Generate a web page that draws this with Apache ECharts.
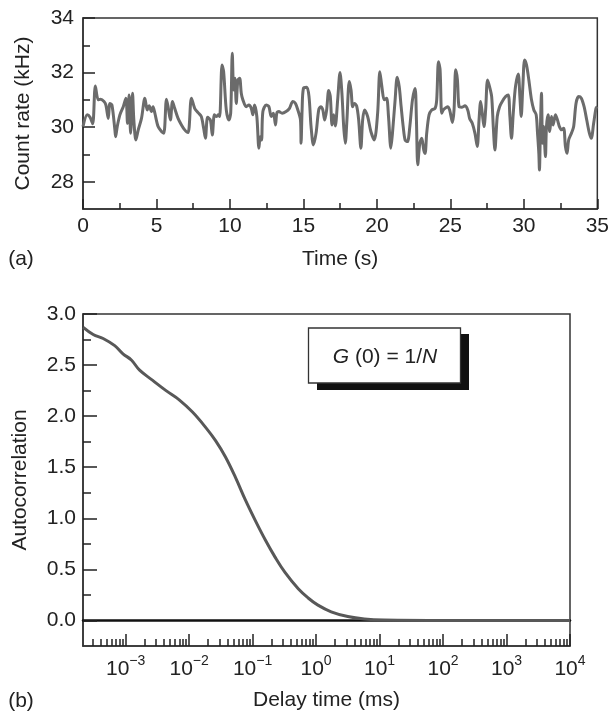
<!DOCTYPE html>
<html><head><meta charset="utf-8">
<script src="https://cdn.jsdelivr.net/npm/echarts@6/dist/echarts.min.js"></script>
<style>html,body{margin:0;padding:0;background:#fff}#c{width:612px;height:712px}</style>
</head><body><div id="c"></div>
<script>
// (a) count-rate trace
const countTime = [0,0.29,0.48,0.66,0.84,1.04,1.20,1.43,1.56,1.72,1.83,1.97,2.17,2.22,2.33,2.51,2.74,2.92,3.03,3.14,3.24,3.37,3.46,3.60,3.76,3.98,4.21,4.37,4.50,4.66,4.77,4.89,5.11,5.34,5.50,5.68,5.79,5.95,6.09,6.24,6.47,6.70,6.92,7.15,7.38,7.60,7.83,8.05,8.21,8.33,8.48,8.67,8.80,8.94,9.07,9.21,9.30,9.46,9.57,9.75,9.93,10.05,10.16,10.25,10.34,10.43,10.54,10.66,10.77,10.88,11.11,11.29,11.45,11.56,11.67,11.83,11.97,12.06,12.15,12.24,12.47,12.65,12.81,12.96,13.10,13.19,13.33,13.55,13.82,14.05,14.28,14.46,14.62,14.80,14.84,14.91,15.00,15.23,15.38,15.52,15.68,15.86,16.04,16.18,16.31,16.45,16.58,16.72,16.83,16.95,17.06,17.17,17.33,17.49,17.62,17.74,17.85,17.96,18.12,18.24,18.35,18.46,18.62,18.76,18.91,19.03,19.16,19.37,19.59,19.82,20.05,20.20,20.34,20.50,20.66,20.79,20.95,21.06,21.24,21.38,21.52,21.65,21.79,21.92,22.08,22.24,22.42,22.60,22.69,22.78,22.92,23.05,23.19,23.28,23.39,23.55,23.73,23.96,24.07,24.19,24.30,24.41,24.52,24.64,24.80,24.95,25.14,25.25,25.36,25.48,25.59,25.77,25.99,26.18,26.31,26.49,26.67,26.83,26.95,27.06,27.17,27.29,27.40,27.53,27.67,27.81,27.92,28.03,28.19,28.35,28.53,28.76,28.94,29.05,29.16,29.28,29.43,29.62,29.73,29.82,29.93,30.05,30.18,30.34,30.52,30.68,30.84,30.93,31.02,31.06,31.13,31.20,31.27,31.34,31.40,31.47,31.54,31.65,31.76,31.88,31.99,32.15,32.29,32.42,32.56,32.71,32.83,32.94,33.05,33.24,33.39,33.55,33.73,33.91,34.10,34.28,34.46,34.59,34.75,34.91,35.00];
const countRate = [30.02,30.45,30.36,30.12,31.51,31.00,31.02,30.94,30.81,30.32,30.87,30.81,29.90,29.65,30.02,30.45,30.75,31.06,30.14,31.18,29.78,31.24,30.26,29.53,29.90,30.32,31.06,30.63,30.78,30.57,30.75,30.51,30.02,29.84,29.78,31.02,30.75,30.26,30.94,30.69,30.32,30.08,29.90,29.80,31.06,30.69,30.53,30.39,29.96,29.59,30.36,30.26,29.71,30.45,30.39,30.45,30.39,32.28,32.03,30.63,30.26,30.51,32.71,31.36,31.79,30.87,31.73,31.79,31.24,31.00,30.75,30.81,30.69,30.45,30.81,30.39,29.23,29.65,29.53,30.57,30.81,30.75,30.39,30.51,30.08,30.51,30.57,30.51,30.57,30.69,30.94,30.87,30.63,30.26,29.41,30.63,31.42,31.46,31.12,30.02,29.35,29.78,30.63,30.75,30.65,30.26,30.63,31.34,31.12,30.08,30.45,30.04,31.00,32.00,31.24,30.02,29.41,30.26,31.67,31.36,30.75,30.87,30.78,30.26,29.23,30.26,30.63,30.39,29.84,29.53,30.51,32.03,31.48,31.00,31.06,30.39,29.23,29.78,31.00,31.83,31.48,30.75,30.02,29.53,29.47,30.02,31.00,31.42,30.26,28.62,29.41,29.59,29.16,29.04,29.78,30.45,30.63,30.69,31.00,32.40,32.10,30.51,30.63,30.69,30.75,30.63,30.17,30.63,32.10,31.73,30.75,30.73,30.78,30.63,30.32,30.14,29.78,29.29,30.26,30.94,30.51,30.02,30.63,31.73,31.48,31.12,30.02,29.16,30.39,30.75,30.94,31.12,31.18,30.39,29.59,30.51,31.48,31.95,31.12,30.39,31.48,32.46,32.28,31.73,31.00,30.63,30.45,29.78,29.04,28.43,30.02,31.24,29.41,30.02,29.53,28.92,30.02,30.45,29.84,30.39,30.08,30.45,30.26,30.02,29.90,29.96,29.29,29.04,29.53,29.78,30.02,30.87,31.12,31.06,30.75,30.26,29.78,29.59,30.14,30.69,30.75];
const rateMajor = [28, 30, 32, 34];
const rateMinor = [29, 31, 33];

// (b) autocorrelation curve
const delayTime = [2.15e-4,3.08e-4,4.42e-4,6.73e-4,9.08e-4,1.23e-3,1.66e-3,2.67e-3,4.33e-3,6.98e-3,1.13e-2,1.82e-2,2.61e-2,3.74e-2,5.37e-2,7.69e-2,0.110,0.158,0.226,0.324,0.524,0.750,1.07,1.73,3.16,5.77,11.8,115,1e4];
const autocorr = [2.87,2.80,2.76,2.69,2.61,2.55,2.45,2.35,2.25,2.16,2.04,1.89,1.76,1.60,1.40,1.18,0.98,0.79,0.62,0.47,0.31,0.22,0.15,0.085,0.038,0.014,0.004,0,0];
const decades = [1e-3, 1e-2, 1e-1, 1e0, 1e1, 1e2, 1e3, 1e4];
const minorMultipliers = [2, 3, 4, 5, 6, 7, 8, 9];
const acMajor = [0, 0.5, 1, 1.5, 2, 2.5, 3];
const acMinor = [0.25, 0.75, 1.25, 1.75, 2.25, 2.75];

const DMIN = 2.13e-4, DMAX = 1e4;
const logMinor = [];
[-4,-3,-2,-1,0,1,2,3].forEach(function(e){
  minorMultipliers.forEach(function(m){
    const v = m * Math.pow(10, e);
    if (v >= DMIN && v <= DMAX) logMinor.push(v);
  });
});

const INK = '#222';
const FONT = 'Liberation Sans, Arial, Helvetica, sans-serif';
const FS = 21;
const tickStyle = {color: INK, width: 1.5};

const chart = echarts.init(document.getElementById('c'), null, {renderer: 'canvas'});
chart.setOption({
  animation: false,
  backgroundColor: '#fff',
  textStyle: {fontFamily: FONT, color: INK},
  grid: [
    {left: 83, top: 18, width: 516, height: 191, show: true, borderColor: '#333', borderWidth: 1.5, backgroundColor: 'transparent'},
    {left: 83, top: 314, width: 487, height: 332, show: true, borderColor: '#333', borderWidth: 1.5, backgroundColor: 'transparent'}
  ],
  xAxis: [
    {type: 'value', gridIndex: 0, min: 0, max: 35, interval: 5,
     name: 'Time (s)', nameLocation: 'middle', nameGap: 40,
     nameTextStyle: {fontSize: FS, color: INK, fontFamily: FONT},
     axisLine: {show: true, onZero: false, lineStyle: {color: '#333', width: 1.5}},
     axisTick: {show: true, inside: true, length: 10, lineStyle: tickStyle},
     minorTick: {show: true, splitNumber: 2, length: 6, lineStyle: tickStyle},
     axisLabel: {fontSize: FS, color: INK, margin: 7, fontFamily: FONT},
     splitLine: {show: false}, minorSplitLine: {show: false}},
    {type: 'log', gridIndex: 1, min: DMIN, max: DMAX, logBase: 10,
     name: 'Delay time (ms)', nameLocation: 'middle', nameGap: 44,
     nameTextStyle: {fontSize: FS, color: INK, fontFamily: FONT},
     axisLine: {show: true, onZero: false, lineStyle: {color: '#333', width: 1.5}},
     axisTick: {show: true, inside: true, length: 12, lineStyle: tickStyle, customValues: decades},
     axisLabel: {customValues: decades, margin: 8, color: INK, fontFamily: FONT,
       formatter: function(v){
         const e = Math.round(Math.log10(v));
         return '{b|10}{s|' + String(e).replace('-', '\u2212') + '}';
       },
       rich: {b: {fontSize: FS, color: INK, fontFamily: FONT, verticalAlign: 'bottom', lineHeight: 26},
              s: {fontSize: 14, color: INK, fontFamily: FONT, verticalAlign: 'top', lineHeight: 14}}},
     splitLine: {show: false}},
    {type: 'log', gridIndex: 1, min: DMIN, max: DMAX, logBase: 10, position: 'bottom',
     axisLine: {show: false, onZero: false},
     axisTick: {show: true, inside: true, length: 7, lineStyle: tickStyle, customValues: logMinor},
     axisLabel: {show: false}, splitLine: {show: false}},
    {type: 'log', gridIndex: 1, min: DMIN, max: DMAX, logBase: 10, position: 'bottom',
     axisLine: {show: true, onZero: true, lineStyle: {color: '#111', width: 2.5}},
     axisTick: {show: false}, axisLabel: {show: false}, splitLine: {show: false}}
  ],
  yAxis: [
    {type: 'value', gridIndex: 0, min: 27, max: 34, position: 'left',
     name: 'Count rate (kHz)', nameLocation: 'middle', nameGap: 49,
     nameTextStyle: {fontSize: FS, color: INK, fontFamily: FONT},
     axisLine: {show: true, onZero: false, lineStyle: {color: '#333', width: 1.5}},
     axisTick: {show: true, inside: true, length: 12, lineStyle: tickStyle, customValues: rateMajor},
     axisLabel: {customValues: rateMajor, fontSize: FS, color: INK, margin: 9, fontFamily: FONT},
     splitLine: {show: false}},
    {type: 'value', gridIndex: 0, min: 27, max: 34, position: 'left',
     axisLine: {show: false, onZero: false},
     axisTick: {show: true, inside: true, length: 7, lineStyle: tickStyle, customValues: rateMinor},
     axisLabel: {show: false}, splitLine: {show: false}},
    {type: 'value', gridIndex: 1, min: -0.25, max: 3, position: 'left',
     name: 'Autocorrelation', nameLocation: 'middle', nameGap: 52,
     nameTextStyle: {fontSize: FS, color: INK, fontFamily: FONT},
     axisLine: {show: true, onZero: false, lineStyle: {color: '#333', width: 1.5}},
     axisTick: {show: true, inside: true, length: 14, lineStyle: tickStyle, customValues: acMajor},
     axisLabel: {customValues: acMajor, fontSize: FS, color: INK, margin: 7, fontFamily: FONT,
       formatter: function(v){ return v.toFixed(1); }},
     splitLine: {show: false}},
    {type: 'value', gridIndex: 1, min: -0.25, max: 3, position: 'left',
     axisLine: {show: false, onZero: false},
     axisTick: {show: true, inside: true, length: 8, lineStyle: tickStyle, customValues: acMinor},
     axisLabel: {show: false}, splitLine: {show: false}}
  ],
  series: [
    {type: 'line', xAxisIndex: 0, yAxisIndex: 0, showSymbol: false, symbol: 'none', smooth: 0.3,
     data: countTime.map(function(t, i){ return [t, countRate[i]]; }),
     lineStyle: {color: '#6b6b6b', width: 3}, z: 3},
    {type: 'line', xAxisIndex: 1, yAxisIndex: 2, showSymbol: false, symbol: 'none', smooth: 0.4,
     data: delayTime.map(function(t, i){ return [t, autocorr[i]]; }),
     lineStyle: {color: '#585858', width: 3}, z: 3}
  ],
  graphic: [
    {type: 'rect', shape: {x: 317, y: 334, width: 152, height: 56}, style: {fill: '#111'}, z: 10},
    {type: 'rect', shape: {x: 308.5, y: 328, width: 152, height: 55}, style: {fill: '#fff', stroke: '#333', lineWidth: 1.3}, z: 11},
    {type: 'text', x: 385, y: 357, z: 12,
     style: {text: '{i|G} (0) = 1/{i|N}', align: 'center', verticalAlign: 'middle',
       font: '21px ' + FONT, fill: INK,
       rich: {i: {fontStyle: 'italic', fontSize: 21, fontFamily: FONT, fill: INK}}}},
    {type: 'text', x: 21, y: 259, style: {text: '(a)', align: 'center', verticalAlign: 'middle', font: FS + 'px ' + FONT, fill: INK}},
    {type: 'text', x: 21, y: 701, style: {text: '(b)', align: 'center', verticalAlign: 'middle', font: FS + 'px ' + FONT, fill: INK}}
  ]
});
</script>
</body></html>
